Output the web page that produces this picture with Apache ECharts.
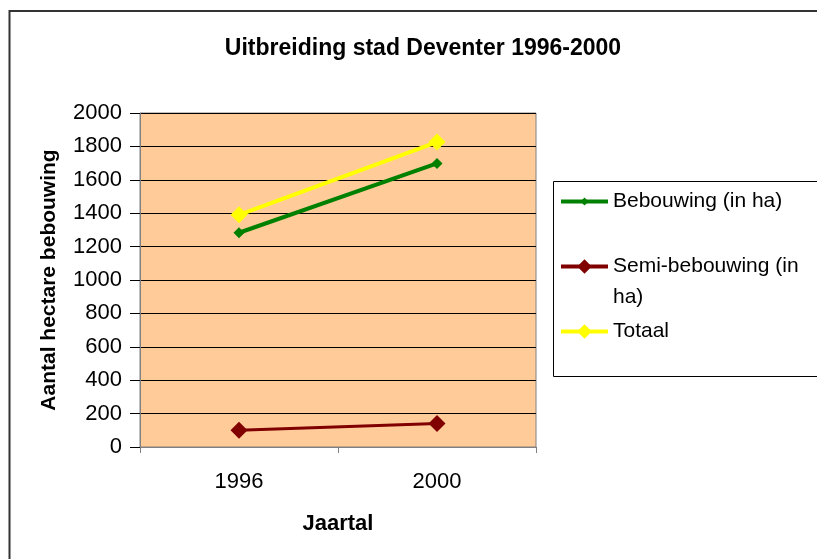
<!DOCTYPE html>
<html>
<head>
<meta charset="utf-8">
<script src="https://cdn.jsdelivr.net/npm/echarts@6/dist/echarts.min.js"></script>
<style>
  html, body { margin: 0; padding: 0; background: #fff; }
  #chart { width: 817px; height: 559px; }
</style>
</head>
<body>
<div id="chart"></div>
<script>
const years = ['1996', '2000'];
const bebouwing = [1283, 1698];
const semiBebouwing = [101, 140];
const totaal = [1390, 1826];
const seriesNames = ['Bebouwing (in ha)', 'Semi-bebouwing (in ha)', 'Totaal'];

const chart = echarts.init(document.getElementById('chart'));
const font = 'Liberation Sans, Arial, sans-serif';

const legendText = { fontFamily: font, fontSize: 21, color: '#000', lineHeight: 31 };

function makeLegend(name, top, itemHeight, formatter) {
    return {
        orient: 'vertical',
        left: 559,
        top: top,
        padding: 0,
        itemWidth: 47,
        itemHeight: itemHeight,
        data: [name],
        lineStyle: { width: 4 },
        formatter: formatter || '{name}',
        textStyle: legendText
    };
}

const option = {
    backgroundColor: '#fff',
    animation: false,
    title: {
        text: 'Uitbreiding stad Deventer 1996-2000',
        left: 418,
        textAlign: 'center',
        top: 32,
        textStyle: { fontFamily: font, fontSize: 23, fontWeight: 'bold', color: '#000' }
    },
    graphic: [
        {
            type: 'rect',
            shape: { x: 9.5, y: 11, width: 900, height: 700 },
            style: { fill: 'none', stroke: '#333', lineWidth: 2 }
        },
        {
            type: 'rect',
            shape: { x: 553.5, y: 181.5, width: 300, height: 195 },
            style: { fill: '#fff', stroke: '#000', lineWidth: 1 },
            z: -1
        }
    ],
    legend: [
        makeLegend(seriesNames[0], 186, 10),
        makeLegend(seriesNames[1], 220, 18, () => '\nSemi-bebouwing (in\nha)'),
        makeLegend(seriesNames[2], 316, 18)
    ],
    grid: {
        left: 140, top: 113, right: 281, bottom: 112,
        show: true, backgroundColor: '#FFCC99',
        borderColor: '#808080', borderWidth: 1
    },
    xAxis: {
        type: 'category',
        data: years,
        boundaryGap: true,
        name: 'Jaartal',
        nameLocation: 'middle',
        nameGap: 66,
        nameTextStyle: { fontFamily: font, fontSize: 22, fontWeight: 'bold', color: '#000' },
        axisLine: { lineStyle: { color: '#808080', width: 1 } },
        axisTick: { show: true, length: 6, lineStyle: { color: '#808080' } },
        axisLabel: { fontFamily: font, fontSize: 22, color: '#000', margin: 24 },
        splitLine: { show: false }
    },
    yAxis: {
        type: 'value',
        min: 0, max: 2000, interval: 200,
        name: 'Aantal hectare bebouwing',
        nameLocation: 'middle',
        nameGap: 80,
        nameTextStyle: { fontFamily: font, fontSize: 21, fontWeight: 'bold', color: '#000' },
        axisLine: { show: true, lineStyle: { color: '#808080', width: 1 } },
        axisTick: { show: true, length: 10, lineStyle: { color: '#000' } },
        axisLabel: {
            fontFamily: font, fontSize: 22, color: '#000', margin: 18,
            formatter: v => String(v)
        },
        splitLine: { show: true, lineStyle: { color: '#000', width: 1 } }
    },
    series: [
        {
            name: seriesNames[0], type: 'line', data: bebouwing,
            symbol: 'diamond', symbolSize: 11,
            lineStyle: { color: '#008000', width: 4 },
            itemStyle: { color: '#008000' }
        },
        {
            name: seriesNames[1], type: 'line', data: semiBebouwing,
            symbol: 'diamond', symbolSize: 17,
            lineStyle: { color: '#800000', width: 3 },
            itemStyle: { color: '#800000' }
        },
        {
            name: seriesNames[2], type: 'line', data: totaal,
            symbol: 'diamond', symbolSize: 17,
            lineStyle: { color: '#FFFF00', width: 4 },
            itemStyle: { color: '#FFFF00' }
        }
    ]
};

chart.setOption(option);
window.addEventListener('resize', () => chart.resize());
</script>
</body>
</html>
